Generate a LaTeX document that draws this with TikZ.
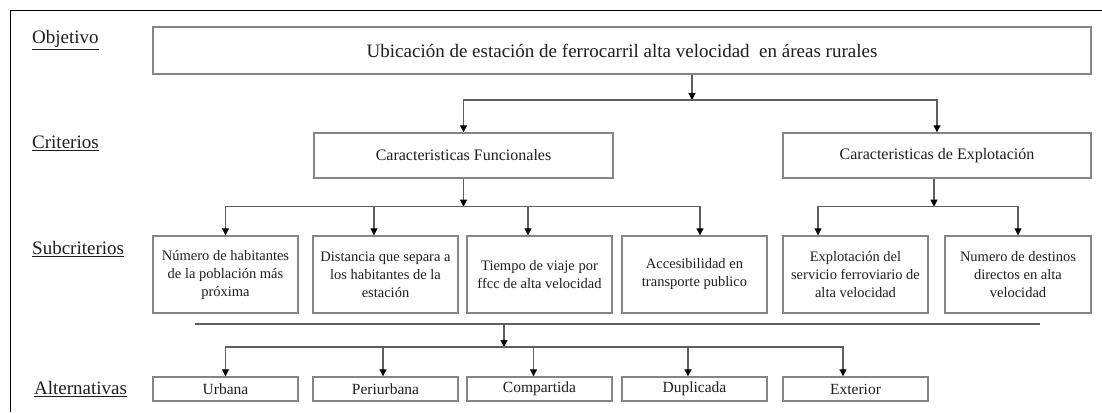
\documentclass[tikz,border=0pt]{standalone}
\usepackage{fontspec}
\setmainfont{Liberation Serif}
\usepackage{tikz}
\usetikzlibrary{arrows.meta,positioning,calc}
\definecolor{hierLine}{HTML}{5E5E5E}
\definecolor{hierBox}{HTML}{858585}
\definecolor{hierText}{HTML}{1E1E1E}
\tikzset{
    hierBase/.style={
        rectangle,
        draw=hierBox,
        line width=1.4pt,
        fill=white,
        align=center,
        text=hierText,
        inner sep=2pt
    },
    % box variants
    goalbox/.style={hierBase, minimum width=938pt, minimum height=47pt, font=\fontsize{19}{22}\selectfont},
    critbox/.style={hierBase, minimum width=#1, minimum height=45pt, font=\fontsize{16}{18}\selectfont},
    subbox/.style={hierBase, minimum width=145pt, minimum height=77pt, font=\fontsize{14.5}{18}\selectfont},
    altbox/.style={hierBase, minimum width=145pt, minimum height=24pt, font=\fontsize{15.5}{18}\selectfont},
    % level labels on the left
    levelLabel/.style={anchor=west, text=hierText, inner sep=0pt, font=\fontsize{19}{22}\selectfont},
    % connectors
    hierArrow/.style={-{Triangle[length=7pt,width=7pt,color=black]}, line width=1.1pt, draw=hierLine},
    hierLine/.style={line width=1.1pt, draw=hierLine}
}

\begin{document}
\begin{tikzpicture}[x=1pt, y=-1pt]
\useasboundingbox (0,0) rectangle (1102,412);
\draw[line width=0.8pt] (10,412) -- (10,10) -- (1102,10);

% level labels
\node[levelLabel] (lObj) at (32,40) {\underline{Objetivo}};
\node[levelLabel] (lCrit) at (32,143) {\underline{Criterios}};
\node[levelLabel] (lSub) at (32,249) {\underline{Subcriterios}};
\node[levelLabel] (lAlt) at (34,389) {\underline{Alternativas}};

% objective and criteria
\node[goalbox] (obj) at (622,50.5) {Ubicación de estación de ferrocarril alta velocidad ~en áreas rurales};
\node[critbox=299pt] (func) at (463.5,155.5) {Caracteristicas Funcionales};
\node[critbox=308pt] (expl) at (937,155.5) {Caracteristicas de Explotación};

% subcriteria
\node[subbox] (s1) at (225.5,274.5) {Número de habitantes\\de la población más\\próxima};
\node[subbox] (s2) at (385.5,274.5) {Distancia que separa a\\los habitantes de la\\estación};
\node[subbox] (s3) at (539.5,274.5) {Tiempo de viaje por\\ffcc de alta velocidad};
\node[subbox] (s4) at (694.5,274.5) {Accesibilidad en\\transporte publico};
\node[subbox] (s5) at (855.5,274.5) {Explotación del\\servicio ferroviario de\\alta velocidad};
\node[subbox, minimum width=146pt] (s6) at (1018,274.5) {Numero de destinos\\directos en alta\\velocidad};

% alternatives
\node[altbox] (a1) at (225.5,389) {Urbana};
\node[altbox] (a2) at (385.5,389) {Periurbana};
\node[altbox] (a3) at (539.5,389) {Compartida};
\node[altbox] (a4) at (694.5,389) {Duplicada};
\node[altbox] (a5) at (855.5,389) {Exterior};

% objective -> criteria
\coordinate (c1) at (692,100);
\draw[hierArrow] (obj.south -| c1) -- (c1);
\draw[hierArrow] (c1) -| (func);
\draw[hierArrow] (c1) -| (expl);

% criteria -> subcriteria
\coordinate (c2) at ($(func.south)+(0,28)$);
\draw[hierArrow] (func.south) -- (c2);
\draw[hierArrow] (c2) -| (s1.north);
\draw[hierArrow] (c2) -| ([xshift=-11.5pt]s2.north);
\draw[hierArrow] (c2) -| ([xshift=-11.5pt]s3.north);
\draw[hierArrow] (c2) -| ([xshift=5.5pt]s4.north);
\coordinate (c3) at ($(expl.south)+(-3,28)$);
\draw[hierArrow] (expl.south -| c3) -- (c3);
\draw[hierArrow] (c3) -| ([xshift=-37.5pt]s5.north);
\draw[hierArrow] (c3) -| (s6.north);

% subcriteria -> alternatives
\coordinate (sepL) at (195,324);
\coordinate (sepR) at (1040,324);
\draw[hierLine] (sepL) -- (sepR);
\coordinate (c4) at (504,347);
\draw[hierArrow] (sepL -| c4) -- (c4);
\draw[hierArrow] (c4) -| (a1.north);
\draw[hierArrow] (c4) -| ([xshift=-2.5pt]a2.north);
\draw[hierArrow] (c4) -| ([xshift=-6pt]a3.north);
\draw[hierArrow] (c4) -| ([xshift=-6.5pt]a4.north);
\draw[hierArrow] (c4) -| ([xshift=-12.5pt]a5.north);
\end{tikzpicture}
\end{document}
